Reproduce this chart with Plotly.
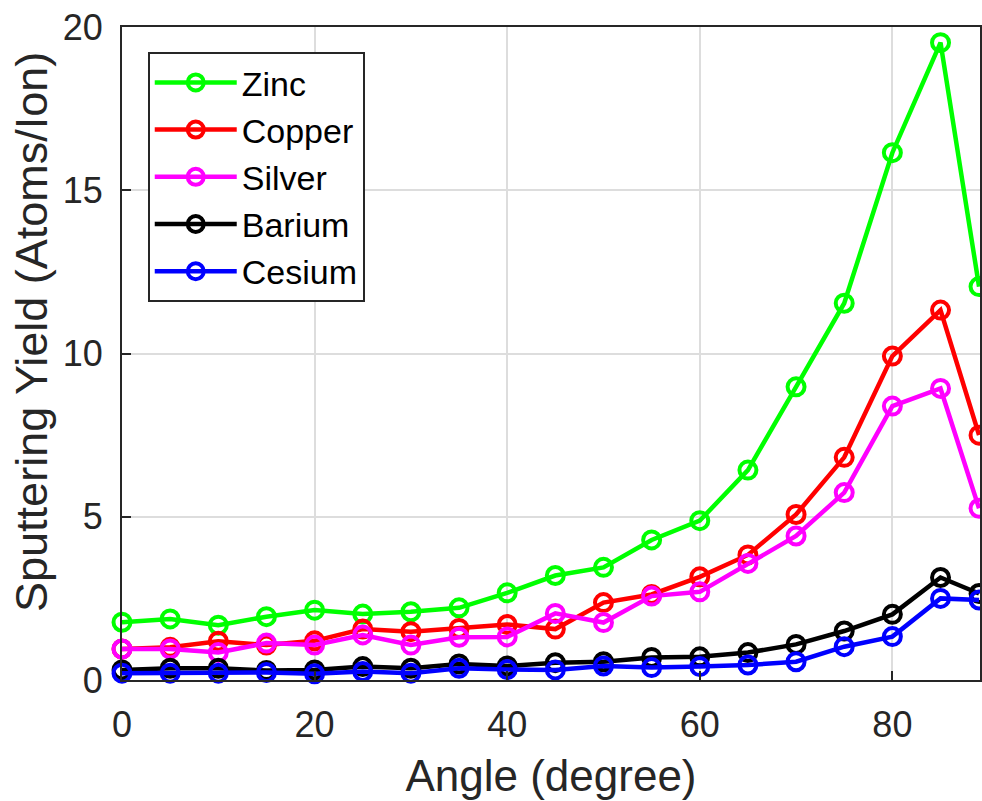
import plotly.graph_objects as go

angles = [0, 5, 10, 15, 20, 25, 30, 35, 40, 45, 50, 55, 60, 65, 70, 75, 80, 85, 89]
zinc   = [1.77, 1.87, 1.68, 1.94, 2.14, 2.02, 2.09, 2.21, 2.67, 3.20, 3.45, 4.29, 4.88, 6.43, 8.98, 11.54, 16.15, 19.52, 12.05]
copper = [0.95, 1.00, 1.19, 1.07, 1.20, 1.56, 1.48, 1.58, 1.70, 1.56, 2.37, 2.62, 3.16, 3.83, 5.07, 6.82, 9.92, 11.33, 7.50]
silver = [0.95, 0.95, 0.84, 1.13, 1.07, 1.38, 1.07, 1.31, 1.32, 2.04, 1.76, 2.57, 2.70, 3.57, 4.41, 5.74, 8.39, 8.93, 5.26]
barium = [0.31, 0.36, 0.36, 0.29, 0.31, 0.41, 0.36, 0.49, 0.43, 0.53, 0.56, 0.69, 0.71, 0.84, 1.09, 1.50, 2.01, 3.14, 2.65]
cesium = [0.21, 0.21, 0.21, 0.23, 0.19, 0.26, 0.21, 0.36, 0.32, 0.31, 0.43, 0.38, 0.41, 0.46, 0.56, 1.02, 1.33, 2.50, 2.45]

series_names = ["Zinc", "Copper", "Silver", "Barium", "Cesium"]
series_values = [zinc, copper, silver, barium, cesium]
series_colors = ["#00FF00", "#FF0000", "#FF00FF", "#000000", "#0000FF"]

x_ticks = [0, 20, 40, 60, 80]
y_ticks = [0, 5, 10, 15, 20]

FONT = "Liberation Sans, Arial, sans-serif"
AX = "#262626"

fig = go.Figure()
for name, vals, col in zip(series_names, series_values, series_colors):
    fig.add_trace(go.Scatter(
        x=angles, y=vals, name=name, mode="lines+markers",
        line=dict(color=col, width=4.5),
        marker=dict(symbol="circle-open", size=17, color=col, line=dict(width=4, color=col)),
        cliponaxis=False,
    ))

fig.update_layout(
    width=982, height=801,
    margin=dict(l=122, r=0, t=27, b=121),
    paper_bgcolor="white", plot_bgcolor="white",
    font=dict(family=FONT, size=36, color="#262626"),
    showlegend=True,
    legend=dict(
        x=0.03, y=0.962, xanchor="left", yanchor="top",
        bgcolor="white", bordercolor=AX, borderwidth=2,
        font=dict(family=FONT, size=34, color="black"),
        itemsizing="trace", itemwidth=82,
    ),
    xaxis=dict(
        range=[0, 89.1], tickvals=x_ticks, ticktext=[str(v) for v in x_ticks],
        showline=True, linecolor=AX, linewidth=2, mirror=True,
        ticks="inside", ticklen=9, tickwidth=2, tickcolor=AX,
        showgrid=True, gridcolor="#dddddd", gridwidth=1.5,
        zeroline=False, ticklabelstandoff=12,
        tickfont=dict(family=FONT, size=36, color="#262626"),
        title=dict(text="Angle (degree)", font=dict(family=FONT, size=44, color="#262626"), standoff=16),
    ),
    yaxis=dict(
        range=[0, 20], tickvals=y_ticks, ticktext=[str(v) for v in y_ticks],
        showline=True, linecolor=AX, linewidth=2, mirror=True,
        ticks="inside", ticklen=9, tickwidth=2, tickcolor=AX,
        showgrid=True, gridcolor="#dddddd", gridwidth=1.5,
        zeroline=False, ticklabelstandoff=10,
        tickfont=dict(family=FONT, size=36, color="#262626"),
    ),
    annotations=[dict(
        text="Sputtering Yield (Atoms/Ion)", textangle=-90,
        xref="paper", yref="paper", x=0, y=0.533, xanchor="center", yanchor="middle",
        xshift=-90, showarrow=False,
        font=dict(family=FONT, size=45, color="#262626"),
    )],
)

fig.write_html(
    "out.html",
    config={"displayModeBar": False},
    post_script="document.body.style.margin='0';document.body.style.overflow='hidden';",
)
